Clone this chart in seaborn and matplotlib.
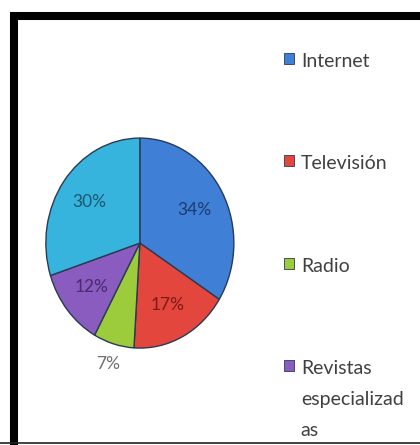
import numpy as np
import matplotlib
matplotlib.use("Agg")
import matplotlib.pyplot as plt
from matplotlib.lines import Line2D
from matplotlib.patches import Patch
import seaborn as sns

# Datos del gráfico
categorias = ["Internet", "Televisión", "Radio", "Revistas\nespecializad\nas", "Otros"]
porcentajes = [34, 17, 7, 12, 30]
colores = ["#3f7fd6", "#e2463c", "#9ccb3c", "#8a5cc0", "#36b4de"]
colores_texto = ["#1d3c6e", "#7e1a18", "#6e6e6e", "#472a70", "#1b5870"]
en_leyenda = 4  # el último sector no aparece en la leyenda

sns.set_theme(style="white")
plt.rcParams['font.family'] = ['Lato', 'DejaVu Sans']

fig = plt.figure(figsize=(4.2, 4.45), dpi=100)
ax = fig.add_axes([0.098, 0.206, 0.47, 0.4955])

wedges, _ = ax.pie(porcentajes, colors=colores, startangle=90, counterclock=False,
                   wedgeprops=dict(edgecolor="#2a3a55", linewidth=1.0))
ax.set_aspect('auto')
ax.set_xlim(-1.05, 1.05)
ax.set_ylim(-1.05, 1.05)
ax.axis('off')

# Etiquetas de porcentaje
for w, p, c in zip(wedges, porcentajes, colores_texto):
    ang = np.deg2rad((w.theta1 + w.theta2) / 2)
    dist = 1.2 if p < 10 else 0.66
    ax.text(dist * np.cos(ang), dist * np.sin(ang), f"{p}%", ha="center", va="center",
            fontsize=12.5, color=c)

# Leyenda (solo las primeras cuatro categorías)
handles = [Patch(facecolor=colores[i], edgecolor="#2a3a55", linewidth=0.6)
           for i in range(en_leyenda)]
leg = fig.legend(handles, categorias[:en_leyenda], loc="upper left",
                 bbox_to_anchor=(0.677, 0.882), frameon=False, fontsize=14,
                 handlelength=0.5, handleheight=0.5, handletextpad=0.35,
                 labelspacing=4.4, labelcolor="#404040", borderpad=0,
                 borderaxespad=0)
for t in leg.get_texts():
    t.set_linespacing(2.0)
# icono alineado con la primera línea de cada etiqueta
for fila in leg._legend_handle_box.get_children()[0].get_children():
    fila.align = "top"

# Marco negro
fig.add_artist(Line2D([14 / 420, 14 / 420], [0, 1 - 12 / 445], color="black",
                      linewidth=5.8, transform=fig.transFigure, solid_capstyle="butt"))
fig.add_artist(Line2D([10 / 420, 1], [1 - 16 / 445, 1 - 16 / 445], color="black",
                      linewidth=5.8, transform=fig.transFigure, solid_capstyle="butt"))
fig.add_artist(Line2D([0, 1], [2 / 445, 2 / 445], color="#222222",
                      linewidth=1.2, transform=fig.transFigure))

fig.savefig("out.png", dpi=100)
